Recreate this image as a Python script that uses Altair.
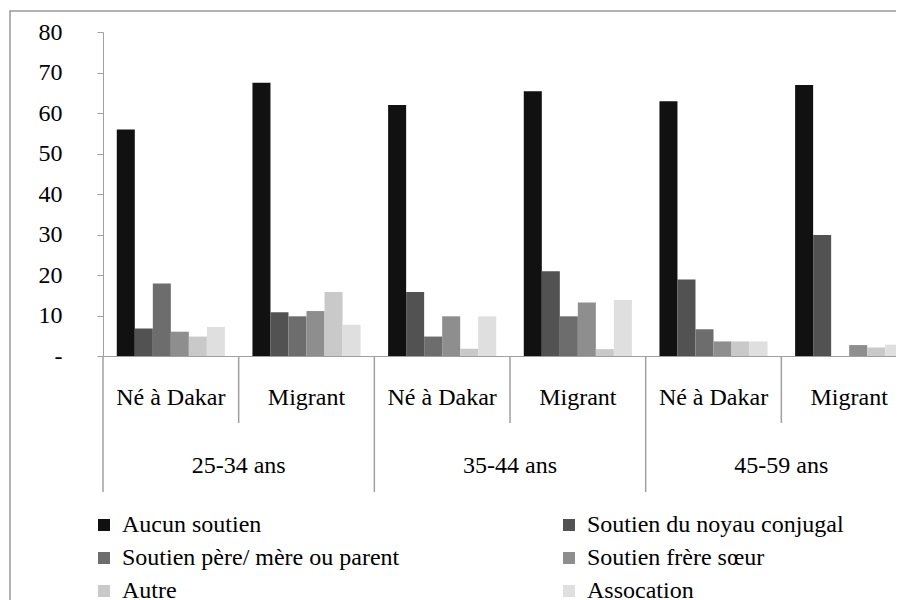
import altair as alt
import pandas as pd

# ---- data ----
ages = ["25-34 ans", "35-44 ans", "45-59 ans"]
statuses = ["Né à Dakar", "Migrant"]
series = [
    "Aucun soutien",
    "Soutien du noyau conjugal",
    "Soutien père/ mère ou parent",
    "Soutien frère sœur",
    "Autre",
    "Assocation",
]
colors = ["#111111", "#525252", "#6d6d6d", "#8e8e8e", "#c9c9c9", "#dfdfdf"]

# values per series, in order of groups: 25-34 Né, 25-34 Mig, 35-44 Né, 35-44 Mig, 45-59 Né, 45-59 Mig
aucun = [55.9, 67.5, 62.0, 65.4, 62.9, 66.9]
noyau = [6.8, 10.8, 15.8, 20.9, 18.9, 29.9]
pere = [17.9, 9.8, 4.8, 9.8, 6.6, 0.0]
frere = [6.0, 11.1, 9.8, 13.2, 3.6, 2.7]
autre = [4.8, 15.8, 1.8, 1.7, 3.6, 2.1]
asso = [7.2, 7.7, 9.8, 13.8, 3.6, 2.8]
values = [aucun, noyau, pere, frere, autre, asso]

y_ticks = [0, 10, 20, 30, 40, 50, 60, 70, 80]

# ---- tables ----
cats, cat_age, cat_status = [], [], []
for a in ages:
    for s in statuses:
        cats.append(a + " | " + s)
        cat_age.append(a)
        cat_status.append(s)

rows = []
for si, name in enumerate(series):
    for ci, c in enumerate(cats):
        rows.append({"cat": c, "serie": name, "value": values[si][ci]})
bars_df = pd.DataFrame(rows)

cat_df = pd.DataFrame({"cat": cats, "age": cat_age, "status": cat_status})
long_df = cat_df[cat_df["status"] == statuses[0]]
short_df = cat_df[cat_df["status"] == statuses[1]]

# legend lays out column by column: reorder so it reads row by row
legend_order = [0, 2, 4, 1, 3, 5]
legend_domain = [series[i] for i in legend_order]
legend_range = [colors[i] for i in legend_order]

W, H = 814, 324
FONT = "Liberation Serif"
GREY = "#a0a0a0"

bars = alt.Chart(bars_df).mark_bar().encode(
    x=alt.X("cat:N", sort=cats, axis=alt.Axis(labels=False, ticks=False, title=None,
                                                domain=True, domainColor=GREY, grid=False),
            scale=alt.Scale(paddingInner=0, paddingOuter=0)),
    xOffset=alt.XOffset("serie:N", sort=series,
                        scale=alt.Scale(paddingInner=0, paddingOuter=0.765)),
    y=alt.Y("value:Q", scale=alt.Scale(domain=[0, 80], nice=False),
            axis=alt.Axis(values=y_ticks, title=None, grid=False, tickSize=6,
                          tickColor=GREY, domainColor=GREY, labelPadding=35,
                          labelFont=FONT, labelFontSize=24, labelColor="#000000",
                          labelExpr="datum.value == 0 ? '-' : datum.label")),
    color=alt.Color("serie:N",
                    scale=alt.Scale(domain=legend_domain, range=legend_range),
                    legend=alt.Legend(orient="none", legendX=-11, legendY=481,
                                      columns=2, columnPadding=157, rowPadding=9,
                                      symbolType="square", symbolSize=144,
                                      symbolStrokeWidth=0, labelFont=FONT,
                                      labelFontSize=24, labelColor="#000000",
                                      labelLimit=600, labelOffset=6, title=None)),
)

long_rules = alt.Chart(long_df).mark_rule(color=GREY, strokeWidth=1.5).encode(
    x=alt.X("cat:N", sort=cats, bandPosition=0),
    y=alt.value(H), y2=alt.value(H + 136),
)
short_rules = alt.Chart(short_df).mark_rule(color=GREY, strokeWidth=1.5).encode(
    x=alt.X("cat:N", sort=cats, bandPosition=0),
    y=alt.value(H), y2=alt.value(H + 67),
)
sub_labels = alt.Chart(cat_df).mark_text(font=FONT, fontSize=24, baseline="alphabetic",
                                         align="center", color="#000000").encode(
    x=alt.X("cat:N", sort=cats),
    y=alt.value(H + 49),
    text="status:N",
)
age_labels = alt.Chart(short_df).mark_text(font=FONT, fontSize=24, baseline="alphabetic",
                                           align="center", color="#000000").encode(
    x=alt.X("cat:N", sort=cats, bandPosition=0),
    y=alt.value(H + 117),
    text="age:N",
)
border = alt.Chart(pd.DataFrame({"k": [0]})).mark_rect(
    fill=None, stroke="#999999", strokeWidth=1.5).encode(
    x=alt.value(-93), y=alt.value(-21), x2=alt.value(W + 6), y2=alt.value(H + 300),
)

chart = alt.layer(border, bars, long_rules, short_rules, sub_labels, age_labels).properties(
    width=W, height=H,
    autosize=alt.AutoSizeParams(type="none"),
    padding={"left": 95, "top": 24, "right": -21, "bottom": 244},
).configure_view(stroke=None)

chart.save("out.html", embed_options={"renderer": "svg", "actions": False})
